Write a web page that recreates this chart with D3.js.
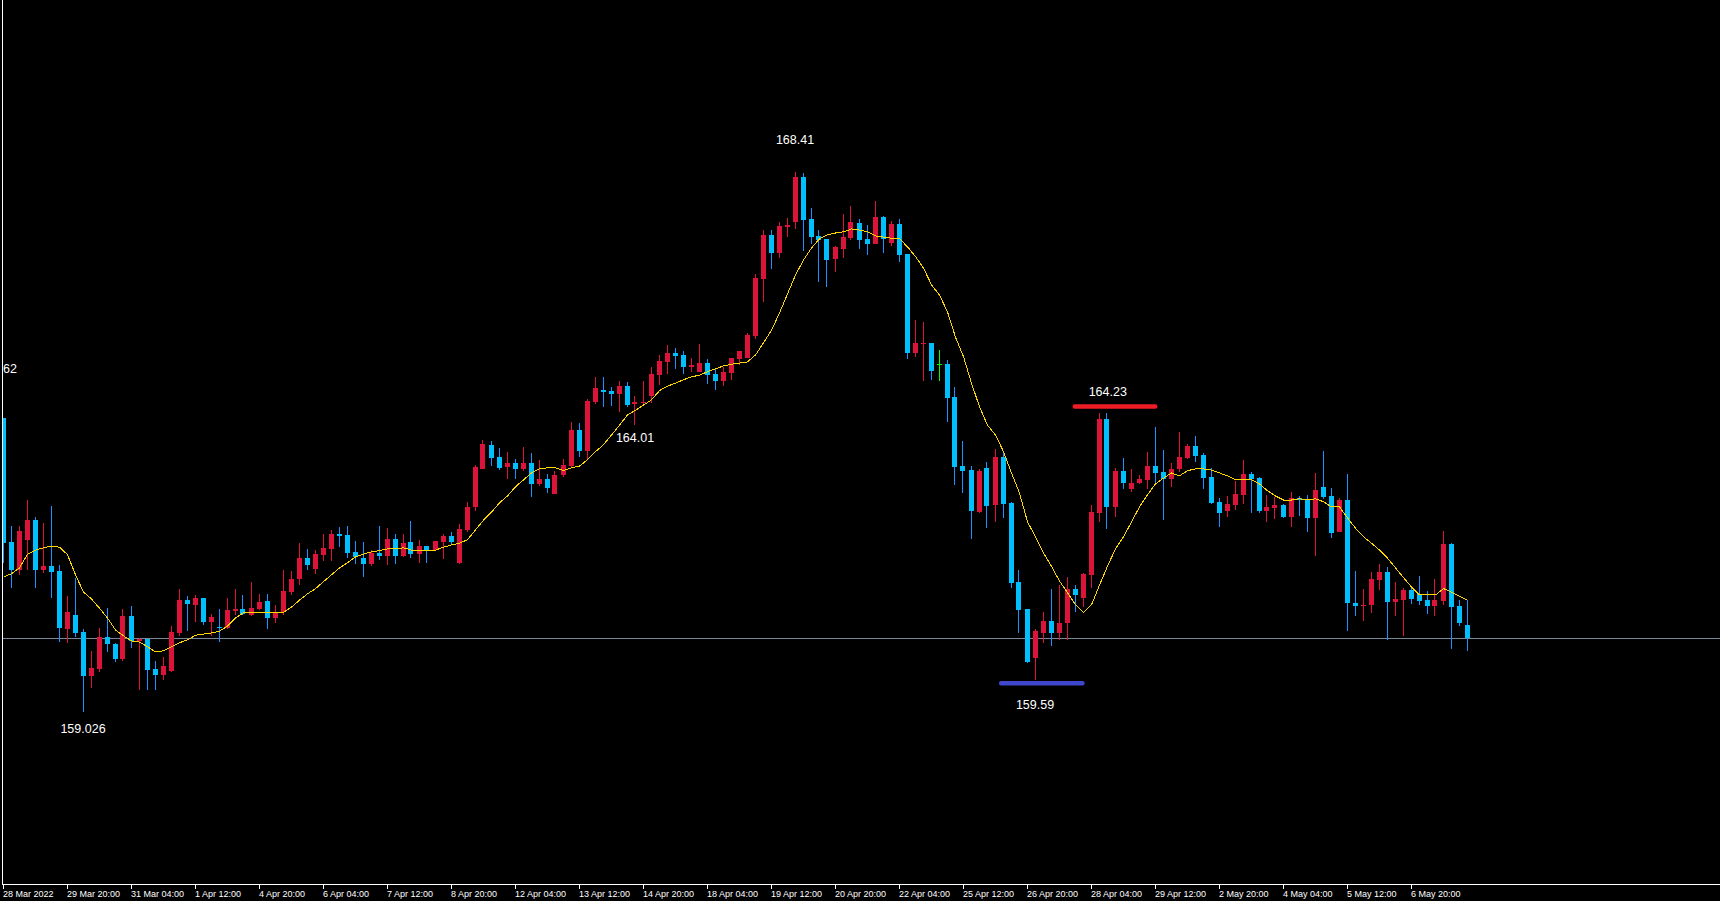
<!DOCTYPE html>
<html>
<head>
<meta charset="utf-8">
<script src="https://cdn.jsdelivr.net/npm/d3@7"></script>
<style>
html, body { margin: 0; padding: 0; background: #000; overflow: hidden; }
svg { display: block; }
</style>
</head>
<body>
<svg id="chart" width="1720" height="901"></svg>
<script>
// H4 bars, one row per bar: open, high, low, close
const bars = [
  [164.14,164.14,161.62,161.96],[161.98,162.26,161.18,161.50],[161.50,162.26,161.41,162.17],[162.02,162.71,161.50,162.36],
  [162.36,162.42,161.18,161.50],[161.50,162.31,161.44,161.56],[161.56,162.61,161.01,161.46],[161.48,161.58,160.24,160.49],
  [160.47,161.04,160.23,160.76],[160.71,161.36,160.33,160.40],[160.42,160.47,159.026,159.65],[159.65,160.09,159.44,159.79],
  [159.77,160.49,159.72,160.33],[160.33,160.83,160.07,160.21],[160.21,160.23,159.90,159.95],[159.95,160.82,159.91,160.70],
  [160.70,160.87,160.14,160.26],[160.26,160.31,159.41,160.30],[160.30,160.30,159.41,159.76],[159.77,159.91,159.41,159.67],
  [159.67,159.98,159.58,159.83],[159.74,160.52,159.72,160.42],[160.40,161.17,160.35,160.97],[160.97,161.04,160.43,160.90],
  [160.89,161.06,160.59,161.01],[161.01,161.01,160.54,160.59],[160.59,160.73,160.35,160.68],[160.50,160.82,160.24,160.49],
  [160.49,161.01,160.47,160.80],[160.78,161.17,160.71,160.82],[160.82,161.06,160.71,160.73],[160.71,161.29,160.70,160.83],
  [160.82,161.08,160.80,160.94],[160.96,161.08,160.47,160.66],[160.66,160.89,160.57,160.76],[160.76,161.50,160.71,161.13],
  [161.11,161.48,161.06,161.34],[161.34,161.96,161.23,161.70],[161.70,161.86,161.50,161.58],[161.51,161.84,161.43,161.77],
  [161.76,162.12,161.65,161.88],[161.86,162.19,161.65,162.12],[162.12,162.24,161.89,162.09],[162.10,162.26,161.70,161.79],
  [161.81,162.00,161.60,161.72],[161.70,161.98,161.37,161.60],[161.60,161.84,161.56,161.79],[161.79,162.26,161.67,161.74],
  [161.74,162.22,161.58,162.03],[162.03,162.12,161.60,161.74],[161.74,162.12,161.72,161.96],[161.98,162.35,161.70,161.77],
  [161.77,162.02,161.62,161.91],[161.91,161.91,161.62,161.84],[161.84,162.00,161.83,162.00],[161.98,162.12,161.69,162.09],
  [162.09,162.16,161.93,161.98],[161.62,162.29,161.60,162.21],[162.19,162.68,162.16,162.59],[162.59,163.32,162.52,163.29],
  [163.25,163.75,163.25,163.68],[163.67,163.74,163.30,163.44],[163.46,163.62,163.23,163.27],[163.29,163.55,163.08,163.35],
  [163.35,163.42,163.08,163.25],[163.25,163.63,163.22,163.35],[163.35,163.53,162.76,162.99],[162.99,163.41,162.96,163.08],
  [163.08,163.16,162.83,162.92],[162.82,163.22,162.82,163.15],[163.15,163.42,163.11,163.32],[163.30,164.07,163.29,163.93],
  [163.93,164.05,163.46,163.56],[163.56,164.47,163.41,164.43],[164.41,164.85,164.38,164.66],[164.62,164.85,164.33,164.59],
  [164.60,164.67,164.34,164.55],[164.55,164.78,164.24,164.69],[164.69,164.76,164.33,164.36],[164.38,164.52,164.01,164.41],
  [164.40,164.78,164.38,164.41],[164.52,165.02,164.40,164.90],[164.88,165.23,164.71,165.13],[165.11,165.40,164.90,165.27],
  [165.27,165.35,164.99,165.21],[165.23,165.30,164.90,165.02],[165.02,165.18,164.94,165.06],[164.94,165.42,164.94,165.09],
  [165.09,165.16,164.73,164.88],[164.90,165.00,164.62,164.78],[164.78,165.02,164.69,164.94],[164.92,165.18,164.80,165.18],
  [165.16,165.30,165.06,165.30],[165.18,165.61,165.18,165.58],[165.56,166.64,165.51,166.57],[166.55,167.40,166.15,167.32],
  [167.32,167.40,166.73,167.00],[167.00,167.54,166.92,167.47],[167.46,167.61,167.28,167.49],[167.54,168.41,167.42,168.32],
  [168.32,168.39,167.04,167.58],[167.59,167.79,167.16,167.28],[167.30,167.40,166.50,167.23],[167.25,167.25,166.41,166.88],
  [166.90,167.13,166.67,167.11],[167.07,167.68,166.92,167.28],[167.26,167.82,167.23,167.54],[167.52,167.59,167.07,167.23],
  [167.25,167.49,166.97,167.16],[167.16,167.91,167.16,167.63],[167.63,167.65,167.00,167.25],[167.18,167.56,167.13,167.51],
  [167.51,167.59,166.85,166.97],[166.99,166.99,165.16,165.27],[165.27,165.84,165.20,165.44],[165.42,165.80,164.78,165.44],
  [165.44,165.44,164.80,164.95],[165.07,165.32,164.78,165.07],[165.07,165.14,164.07,164.48],[164.50,164.67,162.97,163.29],
  [163.30,163.74,162.83,163.22],[163.23,163.30,162.03,162.52],[162.50,163.25,162.49,163.22],[163.27,163.37,162.22,162.61],
  [162.62,163.60,162.33,163.46],[163.46,163.53,162.40,162.64],[162.66,162.68,161.18,161.27],[161.29,161.50,160.40,160.80],
  [160.82,160.82,159.88,159.90],[159.97,160.47,159.59,160.43],[160.40,160.76,160.23,160.61],[160.61,161.17,160.17,160.40],
  [160.40,161.23,160.28,160.57],[160.57,161.37,160.28,161.17],[161.17,161.23,160.76,161.06],[161.01,161.44,160.85,161.43],
  [161.41,162.62,161.18,162.50],[162.49,164.23,162.33,164.12],[164.12,164.22,162.21,162.59],[162.59,163.27,162.42,163.22],
  [163.22,163.44,162.90,163.01],[162.90,163.25,162.85,163.01],[163.01,163.15,162.99,163.08],[163.06,163.55,162.90,163.30],
  [163.30,163.98,163.01,163.18],[163.20,163.58,162.36,163.08],[163.08,163.35,162.94,163.25],[163.25,163.89,163.20,163.46],
  [163.44,163.68,163.42,163.65],[163.65,163.82,163.37,163.48],[163.49,163.53,162.90,163.09],[163.11,163.27,162.64,162.66],
  [162.68,162.75,162.24,162.49],[162.52,162.78,162.42,162.64],[162.62,163.04,162.54,162.82],[162.80,163.41,162.64,163.16],
  [163.16,163.20,162.49,163.08],[163.09,163.11,162.49,162.52],[162.52,162.80,162.33,162.59],[162.57,162.76,162.38,162.62],
  [162.62,162.64,162.40,162.42],[162.42,162.85,162.24,162.75],[162.75,162.78,162.43,162.71],[162.73,162.80,162.16,162.40],
  [162.40,163.18,161.74,162.89],[162.94,163.56,162.73,162.76],[162.78,162.92,162.05,162.14],[162.16,162.75,162.16,162.71],
  [162.71,163.16,160.43,160.92],[160.92,161.48,160.70,160.87],[160.87,161.17,160.61,160.89],[160.89,161.46,160.75,161.34],
  [161.32,161.60,161.15,161.46],[161.46,161.55,160.28,160.94],[160.94,161.29,160.70,160.99],[160.97,161.18,160.35,161.15],
  [161.15,161.22,160.90,160.99],[161.08,161.39,160.89,160.96],[160.97,161.13,160.73,160.87],[160.87,161.34,160.70,160.97],
  [160.96,162.17,160.89,161.94],[161.94,161.96,160.12,160.85],[160.87,160.97,160.52,160.57],[160.54,160.97,160.09,160.31]
];

// moving average, one value per bar
const maValues = [
  161.37,161.43,161.53,161.77,161.84,161.88,161.91,161.89,161.76,161.41,
  161.11,160.99,160.83,160.66,160.45,160.35,160.26,160.24,160.16,160.07,
  160.09,160.16,160.23,160.28,160.36,160.38,160.40,160.43,160.52,160.66,
  160.75,160.76,160.76,160.75,160.75,160.76,160.85,160.97,161.08,161.17,
  161.29,161.41,161.53,161.62,161.72,161.77,161.81,161.83,161.86,161.86,
  161.88,161.84,161.83,161.83,161.84,161.89,161.93,161.96,162.02,162.19,
  162.36,162.50,162.66,162.78,162.94,163.06,163.18,163.25,163.27,163.27,
  163.22,163.27,163.30,163.41,163.55,163.67,163.84,164.01,164.19,164.27,
  164.36,164.45,164.61,164.69,164.74,164.80,164.85,164.88,164.94,164.99,
  165.04,165.07,165.09,165.11,165.23,165.44,165.66,165.96,166.29,166.62,
  166.88,167.09,167.25,167.32,167.35,167.37,167.42,167.40,167.37,167.30,
  167.28,167.26,167.25,167.11,166.94,166.74,166.45,166.27,165.98,165.54,
  165.20,164.74,164.33,164.01,163.84,163.55,163.18,162.83,162.33,162.07,
  161.79,161.56,161.30,161.10,160.89,160.76,160.89,161.23,161.56,161.86,
  162.07,162.33,162.59,162.80,162.99,163.09,163.18,163.13,163.22,163.25,
  163.25,163.23,163.18,163.13,163.06,163.06,163.06,162.99,162.87,162.78,
  162.71,162.71,162.73,162.71,162.73,162.68,162.59,162.59,162.40,162.22,
  162.07,161.96,161.84,161.70,161.53,161.36,161.20,161.06,161.06,161.06,
  161.17,161.11,161.04,160.97
];

// one label every 8 bars
const timeLabels = [
  "28 Mar 2022","29 Mar 20:00","31 Mar 04:00","1 Apr 12:00","4 Apr 20:00","6 Apr 04:00",
  "7 Apr 12:00","8 Apr 20:00","12 Apr 04:00","13 Apr 12:00","14 Apr 20:00","18 Apr 04:00",
  "19 Apr 12:00","20 Apr 20:00","22 Apr 04:00","25 Apr 12:00","26 Apr 20:00","28 Apr 04:00",
  "29 Apr 12:00","2 May 20:00","4 May 04:00","5 May 12:00","6 May 20:00"
];

const bidPrice = 160.32;

// text objects: anchor bar, anchor price, text
const priceNotes = [
  { bar: 99, price: 168.90, text: "168.41" },
  { bar: 79, price: 163.72, text: "164.01" },
  { bar: 10, price: 158.66, text: "159.026" },
  { bar: 138.1, price: 164.52, text: "164.23" },
  { bar: 129, price: 159.08, text: "159.59" }
];
const edgeNote = { price: 164.92, text: "62" };

// horizontal segments: price, first bar, last bar
const levels = [
  { name: "high", price: 164.34, from: 133.7, to: 144.3 },
  { name: "low", price: 159.53, from: 124.5, to: 135.2 }
];

const levelColor = { high: "#ee1c24", low: "#3f48cc" };
const bullColor = "#dc143c", bearColor = "#00bfff", bearWick = "#1e90ff", dojiColor = "#00ff00";

const width = 1720, height = 901;
const axisY = 884;
const svg = d3.select("#chart");

svg.append("rect").attr("width", width).attr("height", height).attr("fill", "#000");

const x = d3.scaleLinear().domain([0, bars.length - 1]).range([3, 3 + 8 * (bars.length - 1)]);
const y = d3.scaleLinear()
  .domain([d3.min(bars, d => d[2]), d3.max(bars, d => d[1])])
  .range([712, 172]);

svg.append("defs").append("clipPath").attr("id", "plot")
  .append("rect").attr("x", 3).attr("y", 0).attr("width", width - 3).attr("height", axisY);

const plot = svg.append("g").attr("clip-path", "url(#plot)");

// bid line
plot.append("line")
  .attr("x1", 3).attr("x2", width)
  .attr("y1", Math.round(y(bidPrice)) + 0.5).attr("y2", Math.round(y(bidPrice)) + 0.5)
  .attr("stroke", "#778899").attr("stroke-width", 1);

const candles = bars.map((b, i) => ({ i, o: b[0], h: b[1], l: b[2], c: b[3] }));
function bodyColor(d) { return d.c > d.o ? bullColor : d.c < d.o ? bearColor : dojiColor; }
function wickColor(d) { return d.c > d.o ? bullColor : d.c < d.o ? bearWick : dojiColor; }

plot.selectAll(".wick").data(candles).join("rect")
  .attr("class", "wick")
  .attr("x", d => Math.floor(x(d.i)))
  .attr("y", d => Math.round(y(d.h)))
  .attr("width", 1)
  .attr("height", d => Math.max(1, Math.round(y(d.l)) - Math.round(y(d.h))))
  .attr("fill", wickColor);

plot.selectAll(".body").data(candles).join("rect")
  .attr("class", "body")
  .attr("x", d => Math.floor(x(d.i)) - 2)
  .attr("y", d => Math.round(y(Math.max(d.o, d.c))))
  .attr("width", 5)
  .attr("height", d => Math.max(1, Math.round(y(Math.min(d.o, d.c))) - Math.round(y(Math.max(d.o, d.c)))))
  .attr("fill", bodyColor);

// moving average
const maLine = d3.line().x((d, i) => x(i) + 0.5).y(d => y(d));
plot.append("path")
  .datum(maValues)
  .attr("d", maLine)
  .attr("fill", "none")
  .attr("stroke", "#ffd700")
  .attr("stroke-width", 1)
  .attr("shape-rendering", "crispEdges");

// marked levels
plot.selectAll(".level").data(levels).join("rect")
  .attr("class", "level")
  .attr("x", d => x(d.from))
  .attr("y", d => y(d.price) - 2)
  .attr("width", d => x(d.to) - x(d.from))
  .attr("height", 4.5)
  .attr("rx", 2)
  .attr("fill", d => levelColor[d.name]);

// price notes
plot.selectAll(".note").data(priceNotes).join("text")
  .attr("class", "note")
  .attr("x", d => x(d.bar))
  .attr("y", d => y(d.price))
  .attr("text-anchor", "middle")
  .attr("fill", "#ffffff")
  .style("font", "12.5px 'Liberation Sans', Arial, sans-serif")
  .text(d => d.text);

plot.append("text")
  .attr("x", 3)
  .attr("y", y(edgeNote.price))
  .attr("fill", "#ffffff")
  .style("font", "12.5px 'Liberation Sans', Arial, sans-serif")
  .text(edgeNote.text);

// frame
svg.append("line").attr("x1", 2.5).attr("x2", 2.5).attr("y1", 0).attr("y2", axisY + 1)
  .attr("stroke", "#ffffff");
svg.append("line").attr("x1", 2).attr("x2", width).attr("y1", axisY + 0.5).attr("y2", axisY + 0.5)
  .attr("stroke", "#ffffff");

// time axis
const axis = d3.axisBottom(x)
  .tickValues(d3.range(0, bars.length, 8))
  .tickFormat((d, k) => timeLabels[k])
  .tickSize(4)
  .tickSizeOuter(0);

const ax = svg.append("g")
  .attr("transform", `translate(0,${axisY + 1})`)
  .call(axis);
ax.select(".domain").remove();
ax.selectAll(".tick line").attr("stroke", "#ffffff");
ax.selectAll(".tick text")
  .attr("fill", "#ffffff")
  .attr("text-anchor", "start")
  .attr("x", -0.5)
  .attr("y", 6)
  .attr("dy", "0.71em")
  .style("font", "9px 'Liberation Sans', Arial, sans-serif");
</script>
</body>
</html>
